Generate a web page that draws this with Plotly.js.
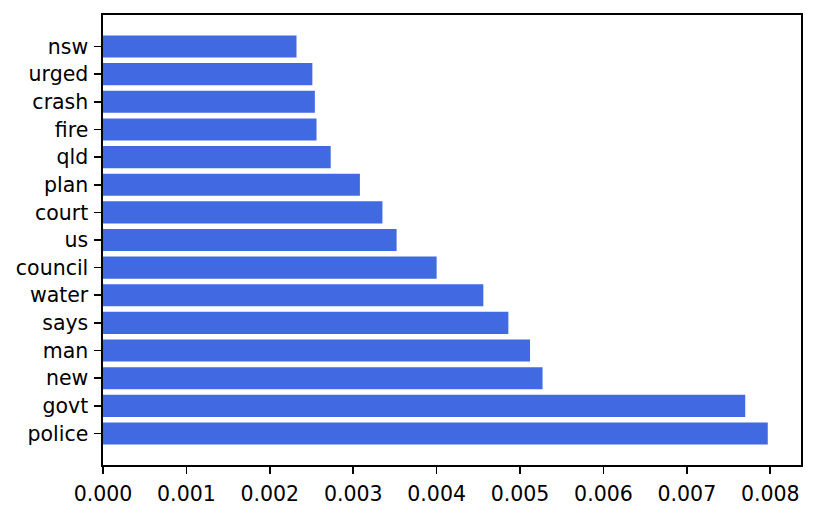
<!DOCTYPE html>
<html>
<head>
<meta charset="utf-8">
<script src="https://cdn.plot.ly/plotly-3.0.1.min.js"></script>
<style>
  body { margin: 0; padding: 0; background: #fff; }
  #chart { width: 815px; height: 517px; }
</style>
</head>
<body>
<div id="chart"></div>
<script>
// words, bottom to top as drawn
const words = ['police', 'govt', 'new', 'man', 'says', 'water', 'council', 'us',
               'court', 'plan', 'qld', 'fire', 'crash', 'urged', 'nsw'];
const scores = [0.00797, 0.00770, 0.00527, 0.00512, 0.00486, 0.00456, 0.00400, 0.00352,
                0.00335, 0.00308, 0.00273, 0.00256, 0.00254, 0.00251, 0.00232];
const xTicks = [0, 0.001, 0.002, 0.003, 0.004, 0.005, 0.006, 0.007, 0.008];

let trace = {
    type: 'bar',
    orientation: 'h',
    y: words,
    x: scores,
    marker: { color: '#4169E1', line: { width: 0 } },
    hoverinfo: 'x+y'
};

let maxScore = Math.max(...scores);

let layout = {
    width: 815,
    height: 517,
    margin: { l: 103, r: 14, t: 15, b: 52 },
    paper_bgcolor: '#fff',
    plot_bgcolor: '#fff',
    font: { family: 'DejaVu Sans, sans-serif', size: 20.5, color: '#000' },
    showlegend: false,
    bargap: 0.2,
    xaxis: {
        range: [0, maxScore * 1.05],
        tickvals: xTicks,
        ticktext: xTicks.map(v => v.toFixed(3)),
        ticks: 'outside',
        ticklen: 7,
        tickwidth: 1.6,
        tickcolor: '#000',
        ticklabelstandoff: 3,
        showline: true,
        linecolor: '#000',
        linewidth: 1.6,
        mirror: true,
        showgrid: false,
        zeroline: false
    },
    yaxis: {
        type: 'category',
        range: [-1.14, words.length - 1 + 1.14],
        ticks: 'outside',
        ticklen: 7,
        tickwidth: 1.6,
        tickcolor: '#000',
        ticklabelstandoff: 2,
        showline: true,
        linecolor: '#000',
        linewidth: 1.6,
        mirror: true,
        showgrid: false,
        zeroline: false
    }
};

Plotly.newPlot('chart', [trace], layout, { displayModeBar: false, staticPlot: true });
</script>
</body>
</html>
